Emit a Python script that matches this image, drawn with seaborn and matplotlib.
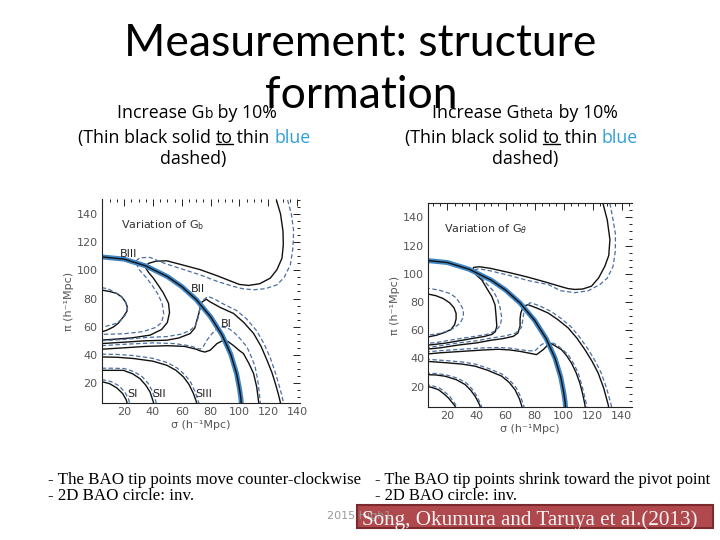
"""Slide: BAO contour response to Gb / Gtheta (two panels)."""
import matplotlib
matplotlib.use("Agg")
import matplotlib.pyplot as plt
import seaborn as sns
from matplotlib.patches import Rectangle
from matplotlib.ticker import MultipleLocator

# ── data (sigma, pi in h^-1 Mpc) ─────────────────────────────────────
CIRCLE_X = [5, 20, 35, 50, 60, 70, 80, 88, 94, 98, 100, 101, 101.3]
CIRCLE_Y = [109.5, 108, 103.2, 95.6, 88.5, 79.3, 67, 54, 40.3, 26.7, 16, 9, 5]

# left panel: variation of Gb
GB_TOP_X = [125.6, 128.5, 130.2, 130.4, 129.5, 126.0, 121.4, 114.0, 106.3, 100.0, 95.9, 85.0, 72.8, 60.0,
            49.6, 42.0, 37.0, 34.5, 37.0, 40.3, 44.0, 47.3, 50.8, 51.5, 50.0, 46.0, 38.0, 25.0, 12.0, 4.5]
GB_TOP_Y = [150.0, 140.0, 127.7, 118.0, 108.7, 100.5, 94.5, 90.5, 89.3, 90.0, 91.6, 96.0, 100.5, 104.0,
            106.8, 106.5, 105.0, 102.5, 98.5, 94.5, 89.0, 83.8, 76.7, 70.0, 63.0, 58.0, 54.0, 52.0, 51.0, 50.5]
GB_TOP_DX = [133.4, 136.0, 137.6, 137.0, 135.3, 131.0, 126.0, 118.0, 109.8, 102.0, 95.9, 85.0, 72.8, 60.0,
             48.0, 38.0, 31.0, 28.0, 30.0, 35.7, 40.0, 43.8, 46.5, 47.5, 46.0, 42.0, 33.0, 20.0, 4.5]
GB_TOP_DY = [150.0, 140.0, 127.7, 115.0, 104.0, 95.0, 89.7, 87.0, 86.2, 87.0, 88.6, 92.0, 96.8, 101.0,
             105.0, 109.2, 109.0, 106.5, 101.0, 94.5, 88.5, 82.6, 76.0, 69.0, 63.0, 59.5, 56.5, 55.0, 54.5]
GB_C_X = [4.5, 10, 14.9, 18.5, 21, 22.2, 22, 19.5, 16, 12.6, 8, 4.5]
GB_C_Y = [86, 85, 83.6, 81, 77.5, 74, 71, 67, 62.5, 59.8, 57.5, 56.3]
GB_C_DX = [4.5, 9, 12.6, 17, 19.5, 21.5, 22.5, 22, 20.7, 18, 14.9, 10, 4.5]
GB_C_DY = [87.8, 86.8, 85, 82.5, 79.5, 76.5, 74, 71, 68, 65, 62.5, 61, 59.5]
GB_BII_X = [4.5, 20, 35, 49.6, 58, 65.8, 69, 70.5, 72, 72.8, 74, 77, 79.7, 87, 95.9, 103, 109.8, 115,
            119.1, 122.5, 124.9, 127, 128.3, 128.5]
GB_BII_Y = [48, 49, 50, 50.4, 52, 55.1, 59, 64.6, 70, 74, 77.5, 79.5, 77.6, 73.5, 69.4, 63, 55.2, 46,
            36.2, 27.5, 19.6, 12, 6.5, 5]
GB_BII_DX = [4.5, 20, 35, 50, 60, 66, 69.5, 71, 72, 73, 75, 78, 82, 90, 98, 105, 112, 117, 121.5, 124.5,
             127, 129.2, 130.5, 130.7]
GB_BII_DY = [50, 51, 52.3, 53, 54.8, 57.5, 61, 65, 70, 75, 79, 81.5, 80, 75.5, 71.5, 65.5, 57, 48, 37.5,
             28.5, 20, 12, 6, 5]
GB_BI_X = [4.5, 20, 35, 50, 62, 70, 72.8, 76, 79.7, 84.4, 89, 92, 96, 100, 102.8, 106.5, 109.8, 112, 113.3, 113.5]
GB_BI_Y = [44, 45, 46, 46.5, 46, 44, 42.8, 42, 43.3, 48, 50.4, 49.5, 46.5, 43, 40.9, 34, 26.7, 17, 6.5, 5]
GB_BI_DX = [4.5, 20, 40, 55, 65, 70, 72.8, 75, 77.4, 80.5, 83.2, 85.5, 87.8, 92, 95.9, 100, 105.2, 108.5,
            110.9, 113, 114.4, 114.5]
GB_BI_DY = [46.5, 47.5, 48.5, 48, 46.5, 45, 44, 46, 50.4, 54.5, 57.5, 59, 59.8, 59, 56.3, 52, 45.6, 38,
            31.4, 20, 6.5, 5]
GB_SIII_X = [4.5, 15, 26.5, 40, 49.6, 56, 61.2, 65, 68.1, 70, 70.5]
GB_SIII_Y = [38.5, 38.3, 37.4, 35.5, 32.6, 29, 24.3, 19, 12.5, 7, 5]
GB_SIII_DX = [4.5, 15, 26.5, 40, 50, 57, 62.5, 66.5, 69.5, 71.5, 72]
GB_SIII_DY = [40.5, 40.3, 39.5, 37.5, 34.5, 30.5, 25.5, 20, 13, 7, 5]
GB_SII_X = [4.5, 12, 19.5, 26, 31, 35, 38, 40.3, 40.5]
GB_SII_Y = [29, 29, 29, 26.5, 23.1, 18.5, 13.6, 6.5, 5]
GB_SII_DX = [4.5, 12, 20, 27, 32.5, 36.5, 39.5, 42, 42.3]
GB_SII_DY = [30.5, 30.5, 30.3, 28, 24.5, 20, 14.5, 7, 5]
GB_SI_X = [4.5, 10, 15, 19, 21.5, 22.3]
GB_SI_Y = [21, 19.5, 16.5, 12.5, 8, 5]
GB_SI_DX = [4.5, 11, 16.5, 20.5, 23, 24]
GB_SI_DY = [22.5, 21, 18, 13.5, 9, 5]

# right panel: variation of Gtheta
GT_TOP_X = [127, 130, 131.8, 131, 128.3, 124, 119.1, 113, 107.7, 103, 98.5, 88, 75.5, 62, 49.4, 42, 38,
            37.5, 40, 43.7, 47.5, 50.6, 52.8, 53.5, 54, 53, 50.6, 45, 39.1, 28, 18.4, 10, 5]
GT_TOP_Y = [150, 138, 124.2, 113, 105.3, 97, 91.2, 89.2, 88.9, 89.5, 90.8, 94, 97.6, 101, 103.9, 105, 104.5,
            102, 99, 95.6, 89, 83.8, 77.9, 70, 62.8, 59, 57, 55.5, 54.5, 52.5, 50.8, 49.8, 49.3]
GT_TOP_DX = [131.8, 134, 135.6, 135.5, 134, 130, 124.9, 117, 107.7, 98, 89.3, 75.5, 62, 50, 42, 39, 40,
             42.5, 47, 51.7, 54.5, 56.3, 57.4, 56.5, 55.1, 51, 47.1, 38, 25, 14, 5]
GT_TOP_DY = [150, 138, 128.2, 116, 105.3, 97, 92.4, 88, 86.6, 88, 92.4, 95.2, 99, 102, 103.5, 103, 101,
             98, 93, 87.7, 82, 75.9, 68.8, 64, 61.7, 58.5, 57, 55.5, 53.5, 51.5, 50.5]
GT_C_X = [5, 12, 17, 21.5, 24.5, 26, 26, 25, 22.5, 18.4, 12.7, 8, 5]
GT_C_Y = [86, 84.5, 82.5, 79.5, 76, 72, 68, 64, 60.5, 58.5, 56.5, 55.5, 55]
GT_C_DX = [5, 14, 21.8, 26, 29, 31, 31, 30.5, 28.7, 25, 22, 15, 10, 5]
GT_C_DY = [90, 88.5, 86, 83, 78.5, 74.3, 71, 68.5, 64.9, 62, 60, 57.8, 57, 56.5]
GT_BII_X = [5, 15, 27.6, 40, 50.6, 58, 65.4, 68.5, 70, 70, 70.5, 72.3, 75.5, 82, 89.3, 96, 103.1, 109,
            114.6, 119.5, 123.7, 127.5, 130.6, 131]
GT_BII_Y = [46.5, 47.5, 49.5, 51, 53, 54, 55.7, 58, 62.8, 68, 72.2, 77, 78.1, 75.5, 72.2, 67.5, 61.6, 54.5,
            46.2, 38, 29.7, 19, 7.3, 5]
GT_BII_DX = [5, 15, 27.6, 40, 50.6, 60, 67, 71, 72, 72.5, 74, 77, 83, 91, 98, 105, 111, 116.5, 121.5,
             125.7, 129.5, 132.6, 133]
GT_BII_DY = [47.5, 49, 51, 52.5, 54.5, 56, 58, 62, 68, 72, 77, 79.5, 77.5, 73.5, 68.5, 62.5, 55, 47, 38.5,
             30, 19, 7.3, 5]
GT_BI_X = [5, 15, 30, 45, 55, 63, 70, 75.5, 81.3, 85.9, 90.5, 94, 98.5, 102, 105.3, 108.5, 111.1, 113, 114.6, 114.8]
GT_BI_Y = [43, 44, 45, 46, 46.5, 46, 45, 43.9, 42.7, 46.2, 51, 49, 46.2, 42, 36.8, 30, 22.6, 15, 7.3, 5]
GT_BI_DX = [5, 15, 30, 45, 55, 63, 70, 75.5, 80.2, 84.7, 89.3, 95, 99, 103.1, 107, 110, 113, 115.7, 116]
GT_BI_DY = [44.5, 45.5, 46.5, 47.5, 47.8, 47.3, 46.2, 45.5, 45.3, 49.8, 52.2, 49.8, 46.5, 42.7, 36, 29.7, 19, 7.3, 5]
GT_SIII_X = [5, 18.4, 30, 39.1, 48, 57.4, 62.5, 66.6, 69.5, 71.2, 71.4]
GT_SIII_Y = [38, 37, 36, 34.5, 31.5, 27.4, 23, 17.7, 11.5, 6.2, 5]
GT_SIII_DX = [5, 18.4, 30, 39.1, 48, 57.4, 63, 67.5, 70.5, 72.5, 72.8]
GT_SIII_DY = [39.5, 38.5, 37.5, 36, 33, 29, 24.5, 19, 12.5, 6.5, 5]
GT_SII_X = [5, 12, 18.4, 26, 32.2, 36, 39.1, 41.5, 42.5, 42.6]
GT_SII_Y = [28.5, 28.3, 27.4, 25, 21.5, 17.5, 13.2, 8.5, 6.2, 5]
GT_SII_DX = [5, 12, 19, 27, 33.2, 37.2, 40.2, 42.5, 43.5, 43.6]
GT_SII_DY = [29.5, 29.3, 28.4, 26, 22.5, 18, 13.5, 8.5, 6, 5]
GT_SI_X = [5, 9, 13.8, 17.5, 20.7, 23.5, 25.3, 25.5]
GT_SI_Y = [20.5, 19.5, 17.9, 15, 12, 8.5, 6.2, 5]
GT_SI_DX = [5, 10, 14.8, 18.5, 21.7, 24.5, 26.3, 26.5]
GT_SI_DY = [21.5, 20.5, 18.9, 16, 13, 9, 6.2, 5]

GB_LABELS = [("BIII", 23, 111.5), ("BII", 71.5, 87), ("BI", 91, 62),
             ("SI", 25.5, 12.5), ("SII", 44.5, 12.5), ("SIII", 75, 12.5)]
TICKS = [20, 40, 60, 80, 100, 120, 140]

BLACK = "#111111"
DASH_BLUE = "#4b6fa3"
CIRCLE_BLUE = "#3f86c4"
AXIS_GREY = "#555555"

sns.set_theme(style="white")
plt.rcParams["font.family"] = ["DejaVu Sans"]
plt.rcParams["text.color"] = "black"


def _line(ax, xs, ys, dashed=False):
    if dashed:
        sns.lineplot(x=xs, y=ys, sort=False, estimator=None, ax=ax, color=DASH_BLUE,
                     linewidth=0.9, linestyle=(0, (3.5, 2)))
    else:
        sns.lineplot(x=xs, y=ys, sort=False, estimator=None, ax=ax, color=BLACK, linewidth=1.0)


def _panel(ax, curves, note, xlim, ylim, hide):
    for xs, ys, dxs, dys in curves:
        _line(ax, xs, ys)
        _line(ax, dxs, dys, dashed=True)
    sns.lineplot(x=CIRCLE_X, y=CIRCLE_Y, sort=False, estimator=None, ax=ax,
                 color=CIRCLE_BLUE, linewidth=3.6)
    sns.lineplot(x=CIRCLE_X, y=CIRCLE_Y, sort=False, estimator=None, ax=ax,
                 color=BLACK, linewidth=1.0)
    ax.set_xlim(*xlim)
    ax.set_ylim(*ylim)
    ax.set_xticks(TICKS)
    ax.set_yticks(TICKS)
    ax.xaxis.set_minor_locator(MultipleLocator(5))
    ax.yaxis.set_minor_locator(MultipleLocator(5))
    ax.tick_params(which="both", direction="in", top=True, right=True, color="#222222",
                   width=0.7, labelsize=8, labelcolor=AXIS_GREY, pad=3)
    ax.tick_params(which="major", length=5)
    ax.tick_params(which="minor", length=2.5)
    for side in ("left", "bottom", "top", "right"):
        ax.spines[side].set_color("#222222")
        ax.spines[side].set_linewidth(0.8)
    for side in hide:
        ax.spines[side].set_visible(False)
    ax.set_xlabel("σ (h⁻¹Mpc)", fontsize=8, color=AXIS_GREY, labelpad=2)
    ax.set_ylabel("π (h⁻¹Mpc)", fontsize=8, color=AXIS_GREY, labelpad=2)
    ax.text(18, 132, note, fontsize=8, color="#333333", va="center")
    ax.set_facecolor("none")


fig = plt.figure(figsize=(7.2, 5.4), dpi=100)
fig.patch.set_facecolor("white")

# background axes in pixel coordinates for the slide text
bg = fig.add_axes([0, 0, 1, 1], zorder=0)
bg.set_xlim(0, 720)
bg.set_ylim(540, 0)
bg.axis("off")

ax_l = fig.add_axes([0.1413, 0.2537, 0.2754, 0.3778], zorder=2)
ax_r = fig.add_axes([0.5949, 0.2469, 0.2829, 0.3767], zorder=2)

_panel(ax_l, [
    (GB_TOP_X, GB_TOP_Y, GB_TOP_DX, GB_TOP_DY),
    (GB_C_X, GB_C_Y, GB_C_DX, GB_C_DY),
    (GB_BII_X, GB_BII_Y, GB_BII_DX, GB_BII_DY),
    (GB_BI_X, GB_BI_Y, GB_BI_DX, GB_BI_DY),
    (GB_SIII_X, GB_SIII_Y, GB_SIII_DX, GB_SIII_DY),
    (GB_SII_X, GB_SII_Y, GB_SII_DX, GB_SII_DY),
    (GB_SI_X, GB_SI_Y, GB_SI_DX, GB_SI_DY),
], r"Variation of G$_{\rm b}$", (4.5, 142), (5.8, 150.7), ("top", "right"))
for name, lx, ly in GB_LABELS:
    ax_l.text(lx, ly, name, fontsize=8, color="#222222", ha="center", va="center")

_panel(ax_r, [
    (GT_TOP_X, GT_TOP_Y, GT_TOP_DX, GT_TOP_DY),
    (GT_C_X, GT_C_Y, GT_C_DX, GT_C_DY),
    (GT_BII_X, GT_BII_Y, GT_BII_DX, GT_BII_DY),
    (GT_BI_X, GT_BI_Y, GT_BI_DX, GT_BI_DY),
    (GT_SIII_X, GT_SIII_Y, GT_SIII_DX, GT_SIII_DY),
    (GT_SII_X, GT_SII_Y, GT_SII_DX, GT_SII_DY),
    (GT_SI_X, GT_SI_Y, GT_SI_DX, GT_SI_DY),
], r"Variation of G$_{\theta}$", (6.9, 147), (5.8, 150), ("right",))

# ── slide text ──────────────────────────────────────────────────────
TITLE_FONT = "Lato"
SUB_FONT = "Open Sans"
bg.text(360, 43, "Measurement: structure", fontsize=32, family=TITLE_FONT,
        color="black", ha="center", va="center")
bg.text(361, 96, "formation", fontsize=32, family=TITLE_FONT, color="black",
        ha="center", va="center", zorder=1)


def _chain(x, y, parts, size=12.8):
    """Write text pieces one after the other; returns the list of artists."""
    arts = []
    prev = None
    for s, kw in parts:
        style = dict(fontsize=size, family=SUB_FONT, color="black", zorder=3)
        style.update(kw)
        if prev is None:
            prev = bg.text(x, y, s, ha="left", va="baseline", **style)
        else:
            prev = bg.annotate(s, xy=(1, 0), xycoords=prev, ha="left", va="bottom", **style)
        arts.append(prev)
    return arts


_chain(117, 118, [("Increase G", {}), ("b", {"fontsize": 10}), (" by 10%", {})])
_chain(432, 118, [("Increase G", {}), ("theta", {"fontsize": 10}), (" by 10%", {})])
under = []
for x0 in (78, 405):
    arts = _chain(x0, 143, [("(Thin black solid ", {}), ("to", {}), (" thin ", {}),
                            ("blue", {"color": "#2f9fd8"})])
    under.append(arts[1])
bg.text(193, 164, "dashed)", fontsize=12.8, family=SUB_FONT, color="black", ha="center", va="baseline")
bg.text(525, 164, "dashed)", fontsize=12.8, family=SUB_FONT, color="black", ha="center", va="baseline")

BODY_FONT = "Liberation Serif"
bg.text(48, 484, "- The BAO tip points move counter-clockwise", fontsize=12.2, family=BODY_FONT,
        color="black", va="baseline")
bg.text(48, 500, "- 2D BAO circle: inv.", fontsize=12.2, family=BODY_FONT, color="black", va="baseline")
bg.text(375, 484, "- The BAO tip points shrink toward the pivot point", fontsize=11.9, family=BODY_FONT,
        color="black", va="baseline")
bg.text(375, 500, "- 2D BAO circle: inv.", fontsize=11.9, family=BODY_FONT, color="black", va="baseline")

bg.add_patch(Rectangle((357, 505), 356, 23, facecolor="#b0494d", edgecolor="#7a2a2d", linewidth=1.5, zorder=2))
bg.text(327, 519, "2015 High1", fontsize=8, color="#9a9a9a", va="baseline", zorder=2.5)
bg.text(362, 525, "Song, Okumura and Taruya et al.(2013)", fontsize=15.2, family=BODY_FONT,
        color="#f2f2f2", va="baseline", zorder=3)

# underline the "to" words
fig.canvas.draw()
inv = bg.transData.inverted()
for t in under:
    bb = t.get_window_extent()
    (ux0, uy), (ux1, _) = inv.transform([(bb.x0, bb.y0 + 0.14 * bb.height), (bb.x1, bb.y0)])
    bg.plot([ux0, ux1], [uy, uy], color="black", linewidth=1.0, zorder=3)

fig.savefig("out.png", dpi=100)
plt.close(fig)
